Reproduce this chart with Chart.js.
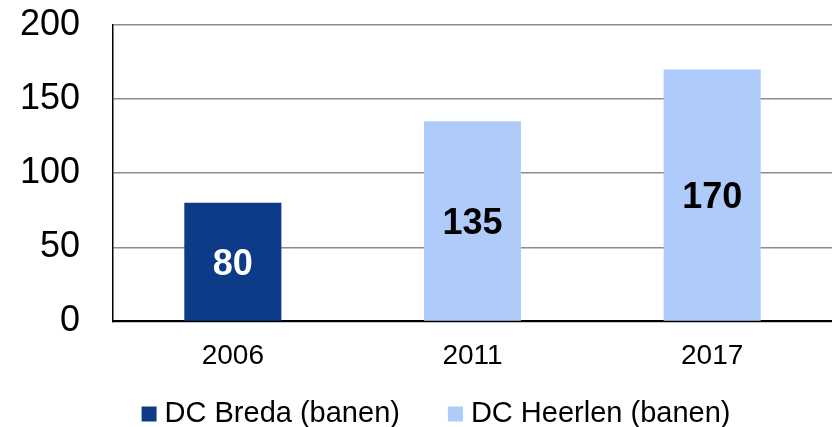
<!DOCTYPE html>
<html>
<head>
<meta charset="utf-8">
<script src="https://cdn.jsdelivr.net/npm/chart.js@4/dist/chart.umd.min.js"></script>
<style>
  html, body { margin: 0; padding: 0; background: #fff; }
  #wrap { width: 832px; height: 427px; position: relative; }
</style>
</head>
<body>
<div id="wrap"><canvas id="c"></canvas></div>
<script>
const categories = ['2006', '2011', '2017'];
const seriesNames = ['DC Breda (banen)', 'DC Heerlen (banen)'];
const bredaValues = [80, null, null];
const heerlenValues = [null, 135, 170];
const yTicks = [0, 50, 100, 150, 200];

const FONT = "'Liberation Sans', Arial, Helvetica, sans-serif";
const DARK = '#0D3B88';
const LIGHT = '#AECBFA';

const barLabels = {
  id: 'barLabels',
  afterDatasetsDraw(chart) {
    const ctx = chart.ctx;
    ctx.save();
    ctx.font = 'bold 36px ' + FONT;
    ctx.textAlign = 'center';
    ctx.textBaseline = 'middle';
    chart.data.datasets.forEach((ds, di) => {
      const meta = chart.getDatasetMeta(di);
      meta.data.forEach((el, i) => {
        const v = ds.data[i];
        if (v === null || v === undefined) return;
        ctx.fillStyle = di === 0 ? '#ffffff' : '#000000';
        ctx.fillText(String(v), el.x, (el.y + el.base) / 2 + 3);
      });
    });
    ctx.restore();
  }
};

const customLegend = {
  id: 'customLegend',
  afterDraw(chart) {
    const ctx = chart.ctx;
    ctx.save();
    ctx.font = '29px ' + FONT;
    ctx.textBaseline = 'middle';
    ctx.textAlign = 'left';
    const box = 15, gap = 8, spacing = 48;
    const items = chart.data.datasets.map(ds => ({
      text: ds.label, color: ds.backgroundColor,
      w: box + gap + ctx.measureText(ds.label).width
    }));
    const total = items.reduce((s, it) => s + it.w, 0) + spacing * (items.length - 1);
    let x = (chart.width - total) / 2 + 20;
    const cy = 414;
    items.forEach(it => {
      ctx.fillStyle = it.color;
      ctx.fillRect(x, cy - box / 2, box, box);
      ctx.fillStyle = '#000';
      ctx.fillText(it.text, x + box + gap, cy);
      x += it.w + spacing;
    });
    ctx.restore();
  }
};

new Chart(document.getElementById('c'), {
  type: 'bar',
  data: {
    labels: categories,
    datasets: [
      { label: seriesNames[0], data: bredaValues, backgroundColor: DARK },
      { label: seriesNames[1], data: heerlenValues, backgroundColor: LIGHT }
    ]
  },
  options: {
    responsive: true,
    maintainAspectRatio: false,
    animation: false,
    layout: { padding: { left: 0, right: 0, top: 25, bottom: 36 } },
    datasets: { bar: { grouped: false, categoryPercentage: 1, barPercentage: 0.405 } },
    plugins: { legend: { display: false }, tooltip: { enabled: false } },
    scales: {
      x: {
        grid: { display: false, drawTicks: false },
        border: { display: true, color: '#000', width: 2 },
        ticks: { color: '#000', font: { family: FONT, size: 28 }, padding: 18 }
      },
      y: {
        min: 0, max: 200,
        afterBuildTicks(scale) { scale.ticks = yTicks.map(v => ({ value: v })); },
        afterFit(scale) { scale.width = 113; scale.paddingTop = 0; scale.paddingBottom = 0; },
        grid: { color: '#8c8c8c', lineWidth: 1.5, drawTicks: false },
        border: { display: true, color: '#000', width: 1.5 },
        ticks: { color: '#000', font: { family: FONT, size: 36 }, padding: 33 }
      }
    }
  },
  plugins: [barLabels, customLegend]
});
</script>
</body>
</html>
